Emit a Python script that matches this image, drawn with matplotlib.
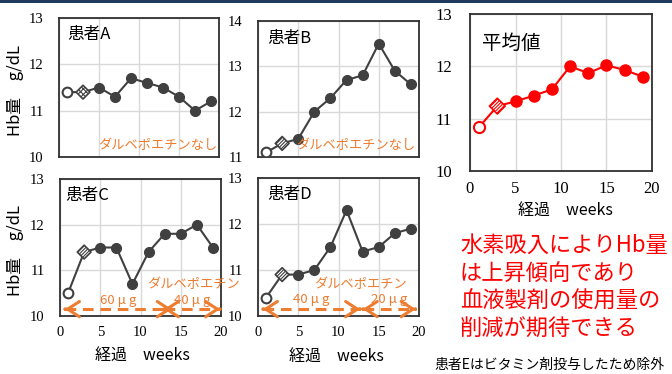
import matplotlib
matplotlib.use("Agg")
import matplotlib.pyplot as plt
from matplotlib.patches import Rectangle

plt.rcParams['font.family'] = ['Noto Sans CJK JP', 'DejaVu Sans']
plt.rcParams['hatch.linewidth'] = 0.8

# Hb (g/dL) every two weeks
weeks = [1, 3, 5, 7, 9, 11, 13, 15, 17, 19]
hb_a = [11.4, 11.4, 11.5, 11.3, 11.7, 11.6, 11.5, 11.3, 11.0, 11.2]
hb_b = [11.1, 11.3, 11.4, 12.0, 12.3, 12.7, 12.8, 13.5, 12.9, 12.6]
hb_c = [10.5, 11.4, 11.5, 11.5, 10.7, 11.4, 11.8, 11.8, 12.0, 11.5]
hb_d = [10.4, 10.9, 10.9, 11.0, 11.5, 12.3, 11.4, 11.5, 11.8, 11.9]
hb_mean = [10.84, 11.24, 11.33, 11.44, 11.56, 12.0, 11.87, 12.02, 11.93, 11.8]

# darbepoetin dosing periods (start week, end week, label)
dose_c = [(0.6, 13.9, "60 μ g"), (12.9, 19.9, "40 μ g")]
dose_d = [(0.6, 12.7, "40 μ g"), (13.0, 19.6, "20 μ g")]

GRAY = "#404040"
RED = "#FF0000"
ORANGE = "#ED7D31"
SERIF = "Liberation Serif"


def draw_panel(ax, y, ylim, color, title, tick_size=10.5, ms=7, show_x=True,
               title_pos=(0.05, 0.88), title_size=12, hatch='/' * 10, ypad=11):
    ax.plot(weeks, y, color=color, lw=1.5, zorder=2)
    # first point: open circle, second: hatched diamond, rest filled
    ax.plot(weeks[:1], y[:1], 'o', ms=ms, mfc='white', mec=color, mew=1.5, zorder=3)
    plt.rcParams['hatch.color'] = color
    ax.scatter(weeks[1:2], y[1:2], marker='D', s=(ms * 1.0) ** 2, facecolor='white',
               edgecolor=color, hatch=hatch, lw=1.2, zorder=3)
    ax.plot(weeks[2:], y[2:], 'o', ms=ms, color=color, zorder=3)

    ax.set_xlim(0, 20)
    ax.set_ylim(*ylim)
    ax.set_xticks([0, 5, 10, 15, 20])
    ax.set_yticks(range(ylim[0], ylim[1] + 1))
    ax.grid(True, color='#d9d9d9', lw=1)
    ax.set_axisbelow(True)
    ax.tick_params(length=0, labelsize=tick_size)
    ax.tick_params(axis='y', pad=ypad)
    ax.tick_params(axis='x', pad=7)
    for lab in ax.get_xticklabels() + ax.get_yticklabels():
        lab.set_fontfamily(SERIF)
    if not show_x:
        ax.set_xticklabels([])
    for sp in ax.spines.values():
        sp.set_color('#303030')
        sp.set_linewidth(1.3)
    ax.text(title_pos[0], title_pos[1], title, transform=ax.transAxes,
            fontsize=title_size, va='center', ha='left')


def draw_doses(ax, doses, label_x, label_ha):
    yy = 10.15
    for x0, x1, lab in doses:
        ax.plot([x0, x1], [yy, yy], color=ORANGE, lw=2.2, ls=(0, (3.5, 2.2)),
                clip_on=False, zorder=4)
        for tip, d in ((x0, -1), (x1, 1)):
            ax.annotate('', xy=(tip, yy), xytext=(tip - 0.05 * d, yy),
                        arrowprops=dict(arrowstyle='->,head_length=0.85,head_width=0.55',
                                        color=ORANGE, lw=2.2, shrinkA=0, shrinkB=0),
                        annotation_clip=False, zorder=4)
        ax.text((x0 + x1) / 2, 10.35, lab, color=ORANGE, fontsize=9.5,
                ha='center', va='center')
    ax.text(label_x, 10.68, "ダルベポエチン", color=ORANGE, fontsize=9.5,
            ha=label_ha, va='center', clip_on=False)


fig = plt.figure(figsize=(6.72, 3.74), dpi=100)
W, H = 672, 374


def px_axes(left, top, right, bottom):
    return fig.add_axes([left / W, 1 - bottom / H, (right - left) / W, (bottom - top) / H])


ax_a = px_axes(59, 18, 219, 157)
ax_b = px_axes(258, 21, 419, 157)
ax_c = px_axes(60, 179, 221, 316)
ax_d = px_axes(258, 178, 419, 316)
ax_m = px_axes(470, 14, 652, 171)

draw_panel(ax_a, hb_a, (10, 13), GRAY, "患者A", show_x=False, title_pos=(0.05, 0.878),
           hatch='x' * 6)
draw_panel(ax_b, hb_b, (11, 14), GRAY, "患者B", show_x=False, title_pos=(0.06, 0.875))
draw_panel(ax_c, hb_c, (10, 13), GRAY, "患者C", title_pos=(0.03, 0.883))
draw_panel(ax_d, hb_d, (10, 13), GRAY, "患者D", title_pos=(0.056, 0.88))
draw_panel(ax_m, hb_mean, (10, 13), RED, "平均値", tick_size=12, ms=8,
           title_pos=(0.066, 0.815), title_size=14, ypad=13)

ax_a.text(0.99, 0.08, "ダルベポエチンなし", transform=ax_a.transAxes, color=ORANGE,
          fontsize=9.5, ha='right', va='center')
ax_b.text(0.98, 0.088, "ダルベポエチンなし", transform=ax_b.transAxes, color=ORANGE,
          fontsize=9.5, ha='right', va='center')

draw_doses(ax_c, dose_c, 10.8, 'left')
draw_doses(ax_d, dose_d, 12.7, 'center')

# axis labels
for yc in (91, 251):
    fig.text(16 / W, 1 - yc / H, "Hb量　g/dL", rotation=90, fontsize=12,
             ha='center', va='center')
fig.text(142 / W, 1 - 356 / H, "経過　weeks", fontsize=11.5, ha='center', va='center')
fig.text(336 / W, 1 - 357 / H, "経過　weeks", fontsize=11.5, ha='center', va='center')
fig.text(565 / W, 1 - 211 / H, "経過　weeks", fontsize=11.5, ha='center', va='center')

# conclusion text
lines = ["水素吸入によりHb量", "は上昇傾向であり", "血液製剤の使用量の", "削減が期待できる"]
for i, ln in enumerate(lines):
    fig.text(460 / W, 1 - (245 + 28 * i) / H, ln, color=RED, fontsize=16,
             ha='left', va='center')
fig.text(434 / W, 1 - 365 / H, "患者Eはビタミン剤投与したため除外", fontsize=10,
         ha='left', va='center')

# thin navy band along the top edge
fig.add_artist(Rectangle((0, 1 - 3 / H), 1, 3 / H, transform=fig.transFigure,
                         color='#1F3A5F', lw=0))

fig.savefig("out.png", dpi=100)
